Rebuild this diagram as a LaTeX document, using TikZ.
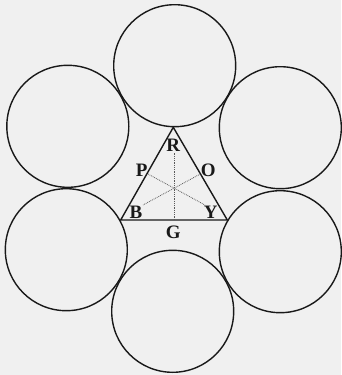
\documentclass[tikz,border=0pt]{standalone}
\usepackage{fontspec}
\setmainfont{Liberation Serif}
\begin{document}
\begin{tikzpicture}[x=1pt,y=-1pt,
  ring/.style={circle,draw=black!90,line width=1.4pt,minimum size=122pt,inner sep=0pt},
  tri/.style={draw=black!90,line width=1.4pt,line join=round},
  med/.style={draw=black!65,line width=0.8pt,densely dotted},
  lab/.style={font=\fontsize{19}{19}\selectfont\bfseries,inner sep=0pt,text=black!90}]
\fill[black!6] (0,0) rectangle (341,375);
\useasboundingbox (0,0) rectangle (341,375);
\node[ring] (ct) at (174.7,65.7) {};
\node[ring] (cul) at (67.8,126.3) {};
\node[ring] (cur) at (280.3,127.7) {};
\node[ring] (cll) at (66.3,249.7) {};
\node[ring] (clr) at (280.3,251.7) {};
\node[ring] (cb) at (172.7,311.3) {};
\coordinate (A) at (173.3,127.3);
\coordinate (L) at (120.7,220);
\coordinate (Rt) at (227.3,220);
\draw[tri] (A) -- (L) -- (Rt) -- cycle;
\coordinate (mG) at (174,220);
\coordinate (mP) at (148,174);
\coordinate (mO) at (200.3,174);
\coordinate (eR) at (174,153);
\coordinate (eB) at (143,205);
\coordinate (eY) at (205,205);
\draw[med] (mG) -- (eR);
\draw[med] (mP) -- (eY);
\draw[med] (mO) -- (eB);
\node[lab] (R) at (173.3,145) {R};
\node[lab] (P) at (141.7,170) {P};
\node[lab] (O) at (208.3,170.7) {O};
\node[lab] (B) at (136,212.3) {B};
\node[lab] (Y) at (210.7,212.3) {Y};
\node[lab] (G) at (173.3,232.3) {G};
\end{tikzpicture}
\end{document}
